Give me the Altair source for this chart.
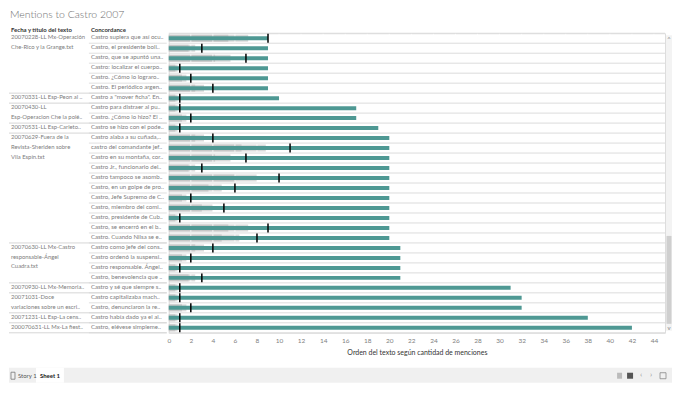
import altair as alt
import pandas as pd

TITLE = "Mentions to Castro 2007"
HEADER_GROUP = "Fecha y título del texto"
HEADER_CONC = "Concordance"
X_TITLE = "Orden del texto según cantidad de menciones"

group_labels = [
    "20070228-LL Mx-Operación\nChe-Rico y la Grange.txt",
    "20070331-LL Esp-Peon al ..",
    "20070430-LL\nEsp-Operacion Che la polé..",
    "20070531-LL Esp-Carleto..",
    "20070629-Fuera de la\nRevista-Sheriden sobre\nVila Espín.txt",
    "20070630-LL Mx-Castro\nresponsable-Ángel\nCuadra.txt",
    "20070930-LL Mx-Memoria..",
    "20071031-Doce\nvariaciones sobre un escri..",
    "20071231-LL Esp-La cens..",
    "200070631-LL Mx-La fiest..",
]
group_sizes = [6, 1, 2, 1, 11, 4, 1, 2, 1, 1]

concordance = [
    "Castro supiera que así ocu..",
    "Castro, el presidente boli..",
    "Castro, que se apuntó una..",
    "Castro: localizar el cuerpo..",
    "Castro.  ¿Cómo lo lograro..",
    "Castro. El periódico argen..",
    "Castro a \"mover ficha\". En..",
    "Castro para distraer al pu..",
    "Castro. ¿Cómo lo hizo? El ..",
    "Castro se hizo con el pode..",
    "Castro alaba a su cuñada,..",
    "castro del comandante jef..",
    "Castro en su montaña, cor..",
    "Castro Jr., funcionario del..",
    "Castro tampoco se asomb..",
    "Castro, en un golpe de pro..",
    "Castro, Jefe Supremo de C..",
    "Castro, miembro del comi..",
    "Castro, presidente de Cub..",
    "Castro, se encerró en el b..",
    "Castro. Cuando Nilsa se e..",
    "Castro como jefe del cons..",
    "Castro ordenó la suspensi..",
    "Castro responsable. Ángel..",
    "Castro, benevolencia que ..",
    "Castro y sé que siempre s..",
    "Castro capitalizaba mach..",
    "Castro, denunciaron la re..",
    "Castro había dado ya el al..",
    "Castro, elévese simpleme..",
]

orden = [9, 9, 9, 9, 9, 9, 10, 17, 17, 19,
         20, 20, 20, 20, 20, 20, 20, 20, 20, 20,
         20, 21, 21, 21, 21, 31, 32, 32, 38, 42]

menciones = [9, 3, 7, 1, 2, 4, 1, 1, 2, 1,
             4, 11, 7, 3, 10, 6, 2, 5, 1, 9,
             8, 4, 2, 1, 3, 1, 1, 2, 1, 1]

x_ticks = [0, 2, 4, 6, 8, 10, 12, 14, 16, 18, 20, 22,
           24, 26, 28, 30, 32, 34, 36, 38, 40, 42, 44]

W, H = 497, 300
N = len(concordance)
FONT = "Lato"
TEAL = "#4e9893"
TXT = "#7d7d7d"

rows = pd.DataFrame({"row": list(range(N)), "conc": concordance,
                     "orden": orden, "ref": menciones})

starts, s = [], 0
for g in group_sizes:
    starts.append(s)
    s += g
groups = pd.DataFrame({"start": starts, "label": group_labels,
                       "end": [a + b for a, b in zip(starts, group_sizes)]})
lines = pd.DataFrame({"b": list(range(N + 1))})
grid = pd.DataFrame({"g": x_ticks[1:]})
one = pd.DataFrame({"a": [0]})

xscale = alt.Scale(domain=[0, 45], nice=False, zero=False)
yscale = alt.Scale(domain=[0, N], nice=False, zero=False, reverse=True)
xaxis = alt.Axis(values=x_ticks, title=X_TITLE, grid=False, ticks=False,
                 domain=False, labelFlush=False, labelOverlap=False,
                 labelFontSize=6.5, labelColor="#808080", labelPadding=5,
                 titleFontSize=7, titleFontWeight="normal", titleColor="#333",
                 titlePadding=4, labelFont=FONT, titleFont=FONT)

def X(f):
    return alt.X(f, scale=xscale, axis=xaxis)

def Y(f):
    return alt.Y(f, scale=yscale, axis=None)

b = alt.Chart(rows).transform_calculate(
    zero="0", b60="datum.ref*0.6", b80="datum.ref*0.8",
    band_t="datum.row+0.15", band_b="datum.row+0.85",
    bar_t="datum.row+0.3", bar_b="datum.row+0.7",
    tick_t="datum.row+0.05", tick_b="datum.row+0.95")

band80 = b.mark_rect(color="#dadada").encode(x=X("zero:Q"), x2="b80:Q", y=Y("band_t:Q"), y2="band_b:Q")
band60 = b.mark_rect(color="#c6c6c6").encode(x=X("zero:Q"), x2="b60:Q", y=Y("band_t:Q"), y2="band_b:Q")
gridl = alt.Chart(grid).mark_rule(color="white", strokeWidth=1, opacity=0.7).encode(
    x=X("g:Q"), y=alt.value(0), y2=alt.value(H))
rowlines = alt.Chart(lines).mark_rule(color="#dcdcdc", strokeWidth=1).encode(
    y=Y("b:Q"), x=alt.value(0), x2=alt.value(W))
bars = b.mark_rect(color=TEAL).encode(x=X("zero:Q"), x2="orden:Q", y=Y("bar_t:Q"), y2="bar_b:Q")
ticks = b.mark_rule(color="black", strokeWidth=1.5).encode(x=X("ref:Q"), y=Y("tick_t:Q"), y2="tick_b:Q")

# text table
conc_lines = alt.Chart(lines[lines.b > 0]).mark_rule(color="#e0e0e0", strokeWidth=1).encode(
    y=Y("b:Q"), x=alt.value(-80), x2=alt.value(-2))
group_lines = alt.Chart(groups).mark_rule(color="#d6d6d6", strokeWidth=1).encode(
    y=Y("end:Q"), x=alt.value(-160), x2=alt.value(-2))
conc_text = alt.Chart(rows).mark_text(align="left", baseline="top", dy=1, font=FONT,
                                      fontSize=6.1, color=TXT, limit=76).encode(
    text="conc:N", y=Y("row:Q"), x=alt.value(-78))
group_text = alt.Chart(groups).mark_text(align="left", baseline="top", dy=1, font=FONT,
                                         fontSize=5.9, color=TXT, lineBreak="\n",
                                         lineHeight=9.8, limit=79).encode(
    text="label:N", y=Y("start:Q"), x=alt.value(-158))

def label(txt, x, y, size, color, weight="normal", align="left"):
    return alt.Chart(one).mark_text(text=txt, align=align, baseline="middle", font=FONT,
                                    fontSize=size, color=color, fontWeight=weight).encode(
        x=alt.value(x), y=alt.value(y))

def box(x, x2, y, y2, fill, stroke=None, sw=0):
    kw = dict(color=fill)
    if stroke:
        kw = dict(fill=fill, stroke=stroke, strokeWidth=sw)
    return alt.Chart(one).mark_rect(**kw).encode(
        x=alt.value(x), x2=alt.value(x2), y=alt.value(y), y2=alt.value(y2))

title = label(TITLE, -159, -18, 10.5, "#6e6e6e", weight=300)
h1 = label(HEADER_GROUP, -158, -3, 6.0, "#333", "bold")
h2 = label(HEADER_CONC, -78, -3, 6.0, "#333", "bold")

# scrollbar
sb_track = box(498, 504, 2, 298, "#f3f3f3")
sb_thumb = box(498.5, 503.5, 203, 291, "#cfcfcf")
sb_up = label("^", 501, 6, 6, "#888", align="center")
sb_dn = label("v", 501, 295, 6, "#888", align="center")

# bottom bar
bar_bg = box(-160, 504, 335, 350, "#f0f0f0")
tab = box(-133, -105, 335, 350, "#ffffff")
story_icon = box(-158, -154, 339.5, 346.5, "#f0f0f0", "#777", 0.8)
story = label("Story 1", -151, 343, 6, "#555")
sheet = label("Sheet 1", -129, 343, 6, "#222", "bold")
ic1 = box(449, 454, 340, 346, "#bbbbbb")
ic2 = box(459, 465, 340, 346, "#555555")
ic3 = label("‹", 473, 342.5, 8, "#999", align="center")
ic4 = label("›", 483, 342.5, 8, "#999", align="center")
ic5 = box(492, 498, 340, 346, "#f0f0f0", "#888", 0.8)
anchor = box(-160, -159, -25, -24, "#ffffff")

chart = alt.layer(
    anchor, band80, band60, gridl, rowlines, bars, ticks,
    conc_lines, group_lines, conc_text, group_text, title, h1, h2,
    sb_track, sb_thumb, sb_up, sb_dn,
    bar_bg, tab, story_icon, story, sheet, ic1, ic2, ic3, ic4, ic5,
).properties(width=W, height=H, padding=0).configure_view(
    stroke=None, fill="#f1f1f1").configure(font=FONT)

chart.save("out.html", embed_options={"renderer": "svg", "actions": False})
